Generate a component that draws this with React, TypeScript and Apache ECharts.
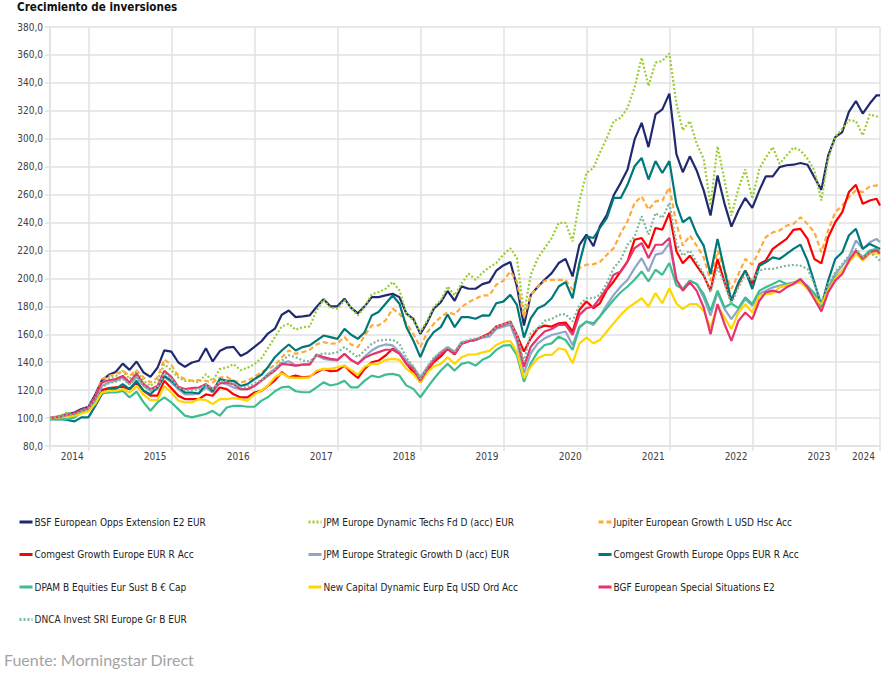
import React, { useEffect, useRef } from "react";
import * as echarts from "echarts";

const FONT = '"DejaVu Sans Condensed", "DejaVu Sans", sans-serif';

// Dates: a mid-July 2014 start, month-end values, a mid-July 2024 end
const startDate = "2014-07-15";
const endDate = "2024-07-15";
const dates: string[] = (() => {
  const out: string[] = [startDate];
  for (let n = 1; n <= 119; n++) {
    const m = 6 + n; // months since Jan 2014
    const y = 2014 + Math.floor(m / 12);
    const mo = m % 12;
    const d = new Date(Date.UTC(y, mo + 1, 0));
    out.push(d.toISOString().slice(0, 10));
  }
  out.push(endDate);
  return out;
})();

const yearLabels = ["2014", "2015", "2016", "2017", "2018", "2019", "2020", "2021", "2022", "2023", "2024"];
const yearEnds = ["2015-01-01", "2016-01-01", "2017-01-01", "2018-01-01", "2019-01-01", "2020-01-01", "2021-01-01", "2022-01-01", "2023-01-01", "2024-01-01", endDate];

const seriesNames = [
  "BSF European Opps Extension E2 EUR",
  "JPM Europe Dynamic Techs Fd D (acc) EUR",
  "Jupiter European Growth L USD Hsc Acc",
  "Comgest Growth Europe EUR R Acc",
  "JPM Europe Strategic Growth D (acc) EUR",
  "Comgest Growth Europe Opps EUR R Acc",
  "DPAM B Equities Eur Sust B € Cap",
  "New Capital Dynamic Eurp Eq USD Ord Acc",
  "BGF European Special Situations E2",
  "DNCA Invest SRI Europe Gr B EUR",
];

const bsf = [
  100, 101.5, 103, 104, 106.5, 108, 117, 127, 131, 133,
  139, 134.5, 140.5, 132.6, 129.5, 136, 148.5, 147.6, 139.8, 136.7,
  139.8, 141, 150, 140.5, 148, 150.5, 151, 144.5, 147, 151,
  155, 160.5, 164, 174, 177, 172.3, 172.8, 173.5, 179.5, 185,
  180, 180, 185.5, 179, 175, 180, 186.6, 186.6, 187.8, 189,
  186.6, 174.7, 171, 160.3, 168.7, 178.3, 183, 191, 184, 194.3,
  192.6, 192.6, 195.9, 197.3, 205.5, 209.3, 211.7, 194.2, 166.2, 188.2,
  194, 199, 203.8, 211, 214, 201.4, 224, 231.3, 223, 237.3,
  245.6, 259.5, 268.4, 278, 299.5, 311.4, 294, 317.4, 321, 332.3,
  289, 276, 287.4, 277.3, 263, 245, 273.7, 253.4, 237.1, 248.6,
  257.5, 250.5, 263, 273, 273, 279.7, 281, 281.4, 282.6, 281.4,
  272.5, 263.4, 288, 301.2, 304.8, 319.2, 327, 318, 325.2, 331.1, 331,
];

const jpmDynamic = [
  100, 102, 104, 103, 105.5, 108, 116, 125, 128.6, 130,
  133.8, 127.9, 133.8, 126.7, 123, 127, 138.6, 134.3, 129, 126.7,
  126.7, 125.5, 131.4, 126.7, 135, 136.2, 138.6, 134.3, 136, 138.6,
  143, 150, 158, 165.6, 167.5, 163.2, 165, 165.6, 177, 184.7,
  179, 178.3, 184.3, 179, 173.5, 179.5, 188.6, 190.2, 192.6, 197.4,
  191.4, 174.7, 170, 161.5, 170, 179.5, 184.3, 194.3, 187.8, 196.2,
  203.4, 199, 204, 208, 211, 217, 221.5, 214.5, 175, 202.6,
  214.5, 221.7, 228.9, 239.7, 239.7, 226.5, 255.2, 275.5, 279.1, 290,
  300.7, 312.6, 315, 322.2, 336.6, 358.1, 337.8, 354.5, 355.7, 361,
  325, 306, 312.7, 296.5, 285.7, 252.2, 294.6, 270, 245, 264.3,
  278, 257, 278.5, 286.4, 294, 282.1, 288, 293.6, 291.6, 285.7,
  277.3, 255.8, 285.7, 301.2, 307.2, 313.2, 312.7, 302.4, 317.5, 316, 315.6,
];

const jupiter = [
  100, 101, 102.4, 103, 105.7, 107, 114.8, 127.9, 130.2, 131.4,
  133.8, 130.2, 134.3, 129, 125.5, 129, 142.1, 138, 130.2, 127.9,
  126.7, 127.1, 126.7, 125.5, 129, 129.5, 126.7, 125.5, 126.7, 129.5,
  133, 135, 138, 143.6, 148.4, 146, 147.2, 148.9, 152.7, 154.4,
  153.2, 153.6, 158, 152.7, 150.8, 159.2, 166.3, 166.3, 169.9, 178.3,
  174.7, 167.5, 160.3, 150.8, 161.5, 167.5, 172.3, 175.9, 174.2, 179.5,
  183, 185.5, 187.8, 187.8, 195.4, 198.3, 205, 197.8, 172, 188.2,
  194.2, 198.3, 199, 199, 199, 191.8, 207.4, 209.8, 210.2, 211.7,
  217, 221.7, 232.5, 240.9, 254, 258.8, 249.2, 255.2, 255.7, 265.3,
  239, 223.5, 230.7, 223.5, 215.1, 198.4, 219.9, 205.6, 192.6, 203.2,
  213.9, 209.9, 219.9, 229.5, 233, 234.3, 237.8, 239, 243.8, 239,
  233, 218.7, 234.3, 247.4, 252.2, 258.2, 263, 261.8, 265.8, 266.6, 265.8,
];

const comgestEurope = [
  100, 100.5, 101.7, 102.4, 104, 105.2, 111.2, 120, 121.4, 122,
  122.4, 120.7, 125.5, 119.5, 116, 116, 126.7, 121.4, 116, 113.6,
  113.6, 113.6, 117, 116, 121.9, 120.7, 117, 114.8, 114.8, 118.3,
  119.5, 123, 127, 132.8, 129.2, 130.4, 129.2, 129.7, 132.8, 135.2,
  133.5, 134, 137.6, 132.8, 128.7, 135.2, 140, 141.2, 144.8, 149.6,
  147.2, 138.8, 132.8, 125.6, 134, 140, 144.1, 149.6, 145.5, 153.2,
  155.1, 156, 158.3, 160.7, 165.5, 167.2, 169.1, 159.5, 147.6, 157.1,
  164.3, 166.2, 165.5, 167.9, 168.4, 162, 177.5, 183.5, 178.7, 182.2,
  191.8, 197.8, 205, 212.2, 227.7, 228.9, 221.7, 236.1, 234.9, 246.8,
  219.5, 210.8, 216.3, 209.1, 202, 191.2, 213.9, 197.2, 184, 196,
  205.6, 196, 210.4, 212.7, 221.1, 224.7, 228.3, 234.7, 235.5, 228.3,
  213.9, 210.8, 229.5, 240.2, 247.4, 261.8, 267, 253.4, 255.8, 257, 252.2,
];

const jpmStrategic = [
  100, 101, 102.4, 103, 105.2, 106.4, 113.6, 123, 125.5, 126.7,
  129, 124.3, 129.5, 123, 119.5, 120.7, 129.5, 125.5, 120.7, 117,
  117, 117.6, 121.9, 118.3, 125.5, 124.3, 121.9, 120.7, 120.7, 123,
  127, 131.6, 135.2, 139.3, 140.7, 137.6, 138.3, 138.8, 144.8, 142.4,
  141.7, 141.2, 146, 141.7, 138.8, 144.1, 148.4, 151.2, 152.7, 152,
  147.2, 141.2, 136.4, 129.2, 136.4, 142.4, 147.2, 150.8, 147.2, 154.4,
  155, 156, 157.5, 158.3, 163.8, 165.5, 166.7, 154.7, 132, 146.4,
  153.5, 157.1, 159.5, 160.7, 162, 152.3, 165.5, 169.1, 166.7, 172.7,
  181, 188.2, 194.2, 199, 207.4, 214.5, 205, 217, 218.1, 225.3,
  199, 192.4, 198.4, 196, 186.4, 173.3, 190, 178, 170.8, 178,
  185.2, 180.4, 188.8, 191.2, 193.6, 194.8, 196, 197.2, 198.4, 194.8,
  188.8, 182.8, 193.6, 203.2, 209.1, 215.1, 227.1, 221.1, 225.9, 228.3, 225.9,
];

const comgestOpps = [
  99.3, 99.3, 98.6, 97.6, 100.5, 100.5, 108.8, 117.1, 120.7, 120.7,
  124.3, 120.7, 126.7, 119.5, 117.1, 121.9, 130.2, 126.7, 121.9, 118.3,
  118.3, 117.6, 124.3, 119, 127.9, 126.7, 126.7, 123, 124.3, 127.9,
  131, 136.4, 143.6, 148.4, 152.7, 148.4, 150.8, 152, 155.5, 159.1,
  158, 156.7, 163.9, 159.8, 156.7, 161.5, 173.5, 175.9, 181.9, 187.8,
  181.9, 165.1, 155.5, 143.6, 155.5, 161.5, 165.1, 174.2, 165.1, 172.3,
  172.3, 171.1, 173.5, 173.4, 182.2, 183.4, 188.2, 181, 157.6, 171.5,
  178.7, 181, 185.8, 194.2, 197.3, 185.8, 210.9, 230.1, 228.9, 236.1,
  243.3, 257.6, 257.6, 267.2, 280.3, 286.3, 270.8, 284, 275.5, 284,
  253, 240.2, 243.8, 231.9, 223.5, 203.2, 228.3, 205.6, 184, 197.2,
  205.6, 192.4, 209.1, 211.5, 215.1, 213.9, 217.5, 221.1, 224.2, 212.7,
  197.2, 180.4, 198.4, 213.9, 218.7, 230.7, 235.5, 221.1, 224.7, 222.3, 221.1,
];

const dpam = [
  99, 99, 99.3, 100.5, 104, 105.2, 113.6, 117.6, 118.3, 118.3,
  119.5, 114.8, 119, 111.2, 105.2, 111.2, 114.8, 111.2, 106.4, 101.7,
  100.5, 101.7, 102.9, 105.2, 101.7, 107.6, 108.8, 108.8, 108.1, 108.1,
  112.5, 114.9, 119.2, 122, 122.5, 119.2, 118.5, 118.5, 122, 125.6,
  123.3, 124.4, 126.8, 122, 122, 126.8, 130.4, 129.2, 131.1, 131.6,
  130.4, 123.3, 120.9, 114.9, 122, 128, 134, 138.8, 134, 138.8,
  140, 137.6, 141.7, 144, 148.8, 151.9, 152.3, 145.2, 126, 139.2,
  147.6, 152.3, 153.5, 158.3, 155.9, 148.8, 164.8, 169.1, 167.9, 172.7,
  178.7, 184.7, 190.1, 194.2, 199, 205, 197.8, 206.2, 202.6, 211,
  195, 192.4, 198.4, 196, 188.8, 176.8, 191.2, 179.2, 182, 178.7,
  186.4, 181.6, 191.2, 193.6, 196, 198.4, 196, 196.5, 198.4, 194,
  189.3, 179.2, 191.2, 200.8, 205.6, 211.5, 219.9, 215.1, 219.9, 221.1, 219.9,
];

const newCapital = [
  100, 100.5, 101, 101.7, 103.3, 104.8, 110.5, 118.3, 119.5, 119.5,
  120.7, 118.3, 123, 116.7, 112.9, 112.9, 123, 118.3, 112.4, 111.2,
  111.2, 113.6, 112.9, 110, 113.6, 113.6, 114.3, 113.6, 112.4, 117.1,
  119.7, 123.3, 129.2, 132.1, 129.2, 128.8, 128.8, 129.2, 134, 135.2,
  135.2, 136.4, 137.6, 134.5, 131.1, 136.9, 138.8, 138.8, 141.7, 142.4,
  141.7, 135.2, 131.6, 125.6, 132.8, 136.9, 138.8, 143.6, 138.8, 143.6,
  145.5, 145.5, 147, 148.1, 152.3, 154.7, 155.2, 147.6, 128.5, 136.8,
  142.8, 145.2, 145.2, 150, 148.8, 139.2, 153.5, 157.6, 153.5, 155.9,
  162, 167.9, 173.9, 178.7, 182.2, 185.8, 179.9, 189.5, 182.2, 193,
  182, 178, 181.6, 181.6, 176.8, 164.8, 180.4, 172, 163.7, 175.6,
  181.6, 175.6, 187.6, 188.8, 189.3, 193.6, 194.8, 196.5, 197.2, 192.4,
  186.4, 181.6, 191.2, 199.6, 205.6, 211.5, 217.5, 212.7, 217.5, 218, 217,
];

const bgf = [
  100, 101, 102.4, 103.3, 105.7, 107, 115.2, 125.5, 127.1, 127.9,
  130.2, 125.5, 131.9, 124.3, 120.7, 123, 133.8, 129.5, 122.4, 120.7,
  121.4, 121.9, 124.3, 120.7, 124.8, 125.5, 124.3, 120.7, 120.7, 123,
  126.8, 130.4, 134, 138.8, 138.3, 137.6, 138.3, 138.3, 145.5, 143.6,
  142.4, 141.7, 146, 141.7, 138.8, 143.1, 145.5, 147.2, 148.9, 148.9,
  146, 138.8, 135.2, 126.8, 135.2, 141.2, 146, 149.6, 146, 153.2,
  155.1, 156, 158, 160, 164.8, 166.7, 168.6, 158.3, 136.8, 151.1,
  157.1, 162, 163.8, 166.7, 166.7, 159.5, 173.9, 178.7, 179.9, 185.8,
  193, 202.6, 205, 212.2, 221.7, 225.3, 214.5, 224.1, 224.1, 228.9,
  199, 191.2, 197.2, 191.2, 179.2, 160, 181.6, 167.2, 155.3, 169.6,
  175.6, 170.8, 184, 190, 191.2, 190, 193.6, 196, 199.6, 193.6,
  185.2, 176.3, 190, 198.4, 203.2, 212.7, 219.9, 213.9, 218.7, 219.9, 218,
];

const dnca = [
  100, 101, 102, 102.5, 105, 106.5, 113, 122, 125, 126,
  128, 124, 130, 123, 120, 122, 132, 128, 122, 120,
  120, 120.5, 124, 121, 126, 126.5, 124.5, 122, 122, 125,
  127, 131, 135, 141, 145, 143.6, 141.2, 140.5, 144.8, 146.4,
  146, 147.2, 150.8, 147.2, 143.6, 148.4, 153.2, 155.5, 156, 156,
  153.2, 143, 137, 128, 137, 143, 147.5, 151, 147.5, 154,
  156, 157, 158, 159.5, 165.5, 167, 169, 159.5, 140.4, 160.7,
  164.3, 169.6, 171, 173.9, 174.4, 169.1, 181, 185.8, 185.8, 188.2,
  196.6, 207.4, 213.4, 224.1, 230.1, 244.5, 231.3, 246.8, 243.3, 254,
  225, 216.3, 219.9, 211.5, 203.2, 190, 208, 196, 181.6, 193.6,
  203.2, 198.4, 205.6, 206.8, 206.8, 208, 209.1, 209.6, 209.1, 206.8,
  196, 182.8, 196, 204.4, 210.4, 216.3, 221.1, 215.1, 218.7, 215.1, 212.7,
];

const seriesValues = [bsf, jpmDynamic, jupiter, comgestEurope, jpmStrategic, comgestOpps, dpam, newCapital, bgf, dnca];
const seriesColors = ["#1f2a6e", "#9acd32", "#ffaa3b", "#ff0000", "#8fa6c8", "#00787a", "#3dbd90", "#ffd700", "#e8336f", "#7fb89b"];
const seriesDash: (number[] | "solid")[] = ["solid", [2, 2], [5, 3], "solid", "solid", "solid", "solid", "solid", "solid", [2, 2]];

const legendColumns = [
  [seriesNames[0], seriesNames[3], seriesNames[6], seriesNames[9]],
  [seriesNames[1], seriesNames[4], seriesNames[7]],
  [seriesNames[2], seriesNames[5], seriesNames[8]],
];
const legendLefts = [18, 307, 597];

const toMs = (s: string) => Date.parse(s + "T00:00:00Z");

export default function App() {
  const ref = useRef<HTMLDivElement>(null);
  useEffect(() => {
    if (!ref.current) return;
    const chart = echarts.init(ref.current, null, { renderer: "svg" });
    const xs = dates.map(toMs);
    const labelVals = yearEnds.map(toMs);
    const tickVals = [xs[0], ...labelVals];
    const gridColor = "#e2e2e2";
    const option: any = {
      animation: false,
      backgroundColor: "#ffffff",
      textStyle: { fontFamily: FONT },
      title: {
        text: "Crecimiento de inversiones",
        left: 17,
        top: 1,
        padding: 0,
        textStyle: { fontFamily: FONT, fontSize: 11.6, fontWeight: "bold", color: "#111" },
      },
      grid: { left: 50, top: 27, width: 830, height: 419, outerBoundsMode: "none", containLabel: false },
      xAxis: {
        type: "value",
        min: xs[0],
        max: xs[xs.length - 1],
        axisLine: { show: true, lineStyle: { color: gridColor, width: 1.5 } },
        axisTick: { show: true, length: 5, customValues: tickVals, lineStyle: { color: gridColor, width: 1.5 } },
        splitLine: { show: true, lineStyle: { color: gridColor, width: 1.5 } },
        axisLabel: {
          customValues: labelVals,
          formatter: (v: number) => {
            let best = 0;
            let bd = Infinity;
            labelVals.forEach((lv, k) => {
              const d = Math.abs(lv - v);
              if (d < bd) { bd = d; best = k; }
            });
            return yearLabels[best];
          },
          align: "right",
          padding: [0, 5, 0, 0],
          margin: 5,
          color: "#404040",
          fontSize: 10,
          fontFamily: FONT,
        },
      },
      yAxis: {
        type: "value",
        min: 80,
        max: 380,
        interval: 20,
        axisLine: { show: true, lineStyle: { color: gridColor, width: 1.5 } },
        axisTick: { show: true, length: 5, lineStyle: { color: gridColor, width: 1.5 } },
        splitLine: { show: true, lineStyle: { color: gridColor, width: 1.5 } },
        axisLabel: {
          formatter: (v: number) => v.toFixed(1).replace(".", ","),
          margin: 7,
          color: "#404040",
          fontSize: 10,
          fontFamily: FONT,
        },
      },
      legend: legendColumns.map((col, k) => ({
        data: col,
        orient: "vertical",
        left: legendLefts[k],
        top: 516,
        padding: 0,
        itemGap: 20.5,
        itemWidth: 13,
        itemHeight: 12,
        selectedMode: false,
        itemStyle: { opacity: 0 },
        lineStyle: { width: 3 },
        textStyle: { fontFamily: FONT, fontSize: 10, color: "#222", padding: [0, 0, 0, -3], lineHeight: 12 },
      })),
      graphic: [
        {
          type: "text",
          left: 4,
          top: 651,
          style: { text: "Fuente: Morningstar Direct", fontFamily: "Lato", fontSize: 16, fill: "#a3a3a3" },
        },
      ],
      series: seriesNames.map((name, k) => ({
        name,
        type: "line",
        symbol: "none",
        showSymbol: false,
        silent: true,
        smooth: false,
        color: seriesColors[k],
        lineStyle: { color: seriesColors[k], width: 2.2, type: seriesDash[k] },
        emphasis: { disabled: true },
        data: seriesValues[k].map((v, i) => [xs[i], v]),
      })),
    };
    chart.setOption(option);
    return () => chart.dispose();
  }, []);
  return <div ref={ref} style={{ position: "fixed", left: 0, top: 0, width: 894, height: 675 }} />;
}
